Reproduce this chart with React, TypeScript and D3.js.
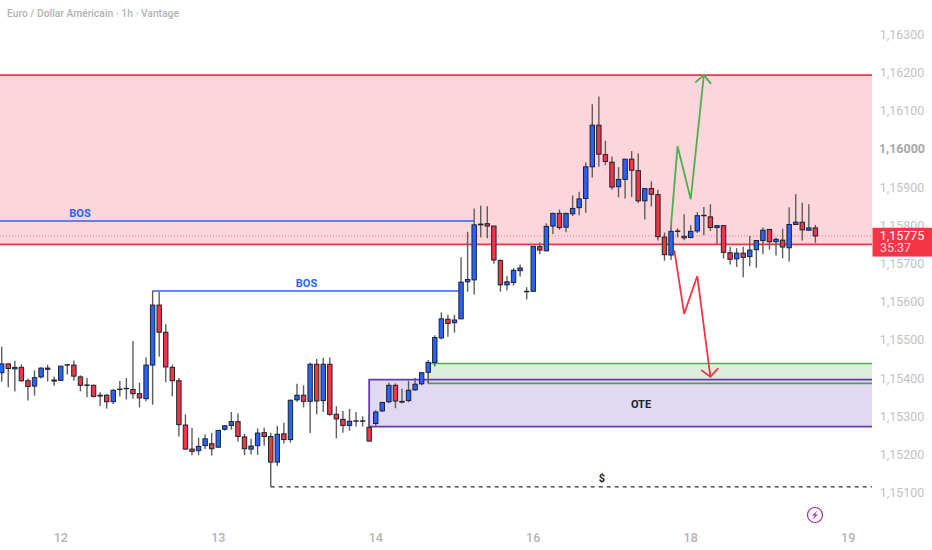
import React from 'react'
import * as d3 from 'd3'

// EURUSD 1h candles
const opens = [
  1.15417, 1.15440, 1.15427, 1.15431, 1.15396, 1.15382, 1.15406, 1.15429, 1.15398, 1.15397,
  1.15437, 1.15437, 1.15406, 1.15385, 1.15384, 1.15358, 1.15358, 1.15341, 1.15373, 1.15375,
  1.15373, 1.15362, 1.15349, 1.15437, 1.15594, 1.15523, 1.15431, 1.15396, 1.15280, 1.15217,
  1.15213, 1.15226, 1.15231, 1.15222, 1.15269, 1.15279, 1.15289, 1.15249, 1.15217, 1.15226,
  1.15260, 1.15250, 1.15183, 1.15257, 1.15242, 1.15346, 1.15358, 1.15342, 1.15439, 1.15344,
  1.15439, 1.15308, 1.15295, 1.15279, 1.15290, 1.15290, 1.15274, 1.15284, 1.15317, 1.15341,
  1.15384, 1.15342, 1.15344, 1.15372, 1.15388, 1.15418, 1.15444, 1.15508, 1.15557, 1.15548,
  1.15558, 1.15655, 1.15660, 1.15806, 1.15807, 1.15801, 1.15711, 1.15647, 1.15653, 1.15684,
  1.15629, 1.15630, 1.15747, 1.15736, 1.15801, 1.15834, 1.15798, 1.15833, 1.15849, 1.15873,
  1.15956, 1.16065, 1.15988, 1.15968, 1.15904, 1.15923, 1.15976, 1.15946, 1.15867, 1.15899,
  1.15883, 1.15772, 1.15725, 1.15787, 1.15774, 1.15771, 1.15788, 1.15828, 1.15825, 1.15797,
  1.15802, 1.15731, 1.15715, 1.15730, 1.15721, 1.15739, 1.15763, 1.15792, 1.15760, 1.15764,
  1.15744, 1.15805, 1.15811, 1.15790, 1.15796,
]
const closes = [
  1.15440, 1.15428, 1.15431, 1.15396, 1.15381, 1.15404, 1.15429, 1.15426, 1.15395, 1.15434,
  1.15438, 1.15408, 1.15384, 1.15384, 1.15355, 1.15356, 1.15341, 1.15371, 1.15374, 1.15376,
  1.15362, 1.15351, 1.15437, 1.15594, 1.15523, 1.15432, 1.15396, 1.15281, 1.15217, 1.15211,
  1.15224, 1.15244, 1.15218, 1.15266, 1.15278, 1.15289, 1.15250, 1.15218, 1.15225, 1.15259,
  1.15250, 1.15183, 1.15256, 1.15242, 1.15345, 1.15358, 1.15342, 1.15439, 1.15343, 1.15439,
  1.15308, 1.15296, 1.15279, 1.15290, 1.15291, 1.15291, 1.15238, 1.15314, 1.15339, 1.15384,
  1.15343, 1.15340, 1.15371, 1.15387, 1.15417, 1.15444, 1.15509, 1.15558, 1.15546, 1.15555,
  1.15654, 1.15661, 1.15804, 1.15804, 1.15801, 1.15712, 1.15647, 1.15655, 1.15685, 1.15691,
  1.15630, 1.15748, 1.15738, 1.15800, 1.15834, 1.15797, 1.15834, 1.15847, 1.15872, 1.15956,
  1.16065, 1.15989, 1.15970, 1.15903, 1.15923, 1.15976, 1.15947, 1.15867, 1.15899, 1.15884,
  1.15773, 1.15726, 1.15787, 1.15788, 1.15770, 1.15787, 1.15828, 1.15829, 1.15797, 1.15802,
  1.15732, 1.15714, 1.15730, 1.15719, 1.15738, 1.15763, 1.15790, 1.15760, 1.15766, 1.15746,
  1.15805, 1.15811, 1.15791, 1.15796, 1.15775,
]
const highs = [
  1.15485, 1.15442, 1.15448, 1.15439, 1.15402, 1.15423, 1.15431, 1.15438, 1.15407, 1.15435,
  1.15439, 1.15449, 1.15410, 1.15403, 1.15386, 1.15366, 1.15361, 1.15374, 1.15395, 1.15403,
  1.15500, 1.15391, 1.15457, 1.15632, 1.15629, 1.15544, 1.15438, 1.15403, 1.15308, 1.15272,
  1.15247, 1.15255, 1.15259, 1.15267, 1.15280, 1.15314, 1.15311, 1.15257, 1.15244, 1.15271,
  1.15273, 1.15260, 1.15278, 1.15286, 1.15346, 1.15388, 1.15384, 1.15444, 1.15453, 1.15456,
  1.15457, 1.15329, 1.15317, 1.15322, 1.15314, 1.15303, 1.15309, 1.15319, 1.15341, 1.15391,
  1.15389, 1.15375, 1.15396, 1.15404, 1.15418, 1.15450, 1.15515, 1.15575, 1.15569, 1.15569,
  1.15719, 1.15786, 1.15847, 1.15854, 1.15853, 1.15801, 1.15713, 1.15670, 1.15691, 1.15700,
  1.15641, 1.15749, 1.15758, 1.15808, 1.15836, 1.15844, 1.15836, 1.15881, 1.15891, 1.15967,
  1.16120, 1.16140, 1.16024, 1.15983, 1.15955, 1.15976, 1.15997, 1.15991, 1.15900, 1.15918,
  1.15896, 1.15784, 1.15804, 1.15795, 1.15832, 1.15803, 1.15837, 1.15851, 1.15858, 1.15803,
  1.15802, 1.15747, 1.15743, 1.15747, 1.15775, 1.15764, 1.15797, 1.15792, 1.15771, 1.15794,
  1.15850, 1.15884, 1.15862, 1.15858, 1.15804,
]
const lows = [
  1.15393, 1.15379, 1.15368, 1.15393, 1.15344, 1.15357, 1.15402, 1.15394, 1.15383, 1.15396,
  1.15412, 1.15396, 1.15368, 1.15353, 1.15352, 1.15330, 1.15323, 1.15335, 1.15355, 1.15347,
  1.15349, 1.15326, 1.15342, 1.15333, 1.15459, 1.15392, 1.15355, 1.15250, 1.15215, 1.15201,
  1.15201, 1.15217, 1.15200, 1.15221, 1.15265, 1.15268, 1.15237, 1.15201, 1.15203, 1.15202,
  1.15226, 1.15118, 1.15173, 1.15232, 1.15234, 1.15341, 1.15326, 1.15259, 1.15308, 1.15314,
  1.15304, 1.15245, 1.15260, 1.15265, 1.15276, 1.15276, 1.15237, 1.15278, 1.15314, 1.15337,
  1.15324, 1.15337, 1.15340, 1.15370, 1.15384, 1.15389, 1.15433, 1.15504, 1.15511, 1.15522,
  1.15558, 1.15629, 1.15622, 1.15771, 1.15769, 1.15702, 1.15629, 1.15632, 1.15645, 1.15669,
  1.15609, 1.15629, 1.15727, 1.15736, 1.15780, 1.15791, 1.15785, 1.15827, 1.15829, 1.15836,
  1.15928, 1.15956, 1.15960, 1.15896, 1.15876, 1.15873, 1.15877, 1.15861, 1.15818, 1.15852,
  1.15763, 1.15710, 1.15712, 1.15771, 1.15764, 1.15769, 1.15783, 1.15777, 1.15788, 1.15753,
  1.15716, 1.15700, 1.15694, 1.15667, 1.15696, 1.15692, 1.15727, 1.15739, 1.15724, 1.15716,
  1.15708, 1.15804, 1.15763, 1.15788, 1.15757,
]

const priceTicks = [1.163, 1.162, 1.161, 1.16, 1.159, 1.158, 1.157, 1.156, 1.155, 1.154, 1.153, 1.152, 1.151]
const dayTicks = [
  { bar: 9, label: '12' },
  { bar: 33, label: '13' },
  { bar: 57, label: '14' },
  { bar: 81, label: '16' },
  { bar: 105, label: '18' },
  { bar: 129, label: '19' },
]

// drawings as [bar, price]
const greenArrow: [number, number][] = [[102, 1.15804], [103, 1.1601], [105, 1.15871], [107, 1.16196]]
const greenHead: [number, number][] = [[105.7, 1.16177], [107, 1.16196], [108.1, 1.16173]]
const redArrow: [number, number][] = [[102.5, 1.15738], [104, 1.15571], [106, 1.1567], [108, 1.15406]]
const redHead: [number, number][] = [[106.6, 1.15424], [108, 1.15406], [109.2, 1.15429]]

const supplyTop = 1.16196
const supplyBottom = 1.15753
const bosHigh = { price: 1.15814, toBar: 72 }
const bosLow = { price: 1.15631, fromBar: 23, toBar: 70 }
const greenZone = { top: 1.15441, bottom: 1.15389, fromBar: 65 }
const oteZone = { top: 1.15399, bottom: 1.15276, fromBar: 56 }
const liquidity = { price: 1.15118, fromBar: 41 }
const lastPrice = 1.15775

const width = 932
const height = 550
const plotRight = 872

const x = d3.scaleLinear().domain([0, 124]).range([1.7, 815.4])
const y = d3.scaleLinear().domain([1.151, 1.163]).range([493.8, 35.4])

const BLUE = '#2962ff'
const RED = '#f23645'
const GREEN = '#4caf50'
const PURPLE = '#673ab7'
const FONT = 'Roboto, "Open Sans", sans-serif'

const formatPrice = (v: number) => v.toFixed(5).replace('.', ',')
const pathLine = d3.line<[number, number]>().x(d => x(d[0])).y(d => y(d[1]))

export default function App() {
  return (
    <svg
      width={width}
      height={height}
      style={{ position: 'absolute', left: 0, top: 0, background: '#fff', fontFamily: FONT }}
    >
      {/* supply zone */}
      <rect x={0} y={y(supplyTop)} width={plotRight} height={y(supplyBottom) - y(supplyTop)} fill="#fcd6da" />

      {/* green and OTE zones */}
      <rect x={x(greenZone.fromBar)} y={y(greenZone.top)} width={plotRight - x(greenZone.fromBar)} height={y(greenZone.bottom) - y(greenZone.top)} fill="#dbefdc" />
      <rect x={x(oteZone.fromBar)} y={y(oteZone.top)} width={plotRight - x(oteZone.fromBar)} height={y(oteZone.bottom) - y(oteZone.top)} fill="#e1d8f1" />
      <line x1={x(greenZone.fromBar)} x2={plotRight} y1={y(greenZone.top)} y2={y(greenZone.top)} stroke={GREEN} strokeWidth={1.6} />
      <line x1={x(greenZone.fromBar)} x2={plotRight} y1={y(greenZone.bottom)} y2={y(greenZone.bottom)} stroke="#4f9a63" strokeWidth={1.6} />
      <line x1={x(greenZone.fromBar)} x2={x(greenZone.fromBar)} y1={y(greenZone.top)} y2={y(greenZone.bottom)} stroke={GREEN} strokeWidth={1.4} />
      <path
        d={`M${plotRight},${y(oteZone.top)}H${x(oteZone.fromBar)}V${y(oteZone.bottom)}H${plotRight}`}
        fill="none"
        stroke={PURPLE}
        strokeWidth={1.8}
      />

      {/* levels */}
      <line x1={0} x2={plotRight} y1={y(supplyTop)} y2={y(supplyTop)} stroke={RED} strokeWidth={1.8} />
      <line x1={0} x2={plotRight} y1={y(supplyBottom)} y2={y(supplyBottom)} stroke={RED} strokeWidth={1.8} />
      <line x1={0} x2={x(bosHigh.toBar)} y1={y(bosHigh.price)} y2={y(bosHigh.price)} stroke={BLUE} strokeWidth={1.6} />
      <line x1={x(bosLow.fromBar)} x2={x(bosLow.toBar)} y1={y(bosLow.price)} y2={y(bosLow.price)} stroke={BLUE} strokeWidth={1.6} />
      <line x1={x(liquidity.fromBar)} x2={plotRight} y1={y(liquidity.price)} y2={y(liquidity.price)} stroke="#333" strokeWidth={1.1} strokeDasharray="4 4" />
      <line x1={0} x2={plotRight} y1={y(lastPrice)} y2={y(lastPrice)} stroke={RED} strokeOpacity={0.6} strokeWidth={1} strokeDasharray="1 2" />

      {/* candles */}
      {opens.map((open, i) => {
        const close = closes[i]
        const top = y(Math.max(open, close))
        const bottom = y(Math.min(open, close))
        return (
          <g key={i}>
            <line x1={x(i)} x2={x(i)} y1={y(highs[i])} y2={y(lows[i])} stroke="#5d5d5d" strokeWidth={1.4} />
            <rect
              x={x(i) - 2.2}
              y={top}
              width={4.4}
              height={Math.max(bottom - top, 0.4)}
              fill={close >= open ? BLUE : RED}
              stroke="#1c2230"
              strokeWidth={1}
            />
          </g>
        )
      })}

      {/* arrows */}
      <path d={pathLine(greenArrow) ?? ''} fill="none" stroke={GREEN} strokeWidth={1.8} />
      <path d={pathLine(greenHead) ?? ''} fill="none" stroke={GREEN} strokeWidth={1.8} />
      <path d={pathLine(redArrow) ?? ''} fill="none" stroke={RED} strokeWidth={1.8} />
      <path d={pathLine(redHead) ?? ''} fill="none" stroke={RED} strokeWidth={1.8} />

      {/* annotation labels */}
      <text x={80} y={217} textAnchor="middle" fontSize={11} fontWeight={700} fill={BLUE}>BOS</text>
      <text x={306.5} y={286.5} textAnchor="middle" fontSize={11} fontWeight={700} fill={BLUE}>BOS</text>
      <text x={641} y={408} textAnchor="middle" fontSize={11} fontWeight={700} fill="#1c2230">OTE</text>
      <text x={602} y={482} textAnchor="middle" fontSize={11} fontWeight={700} fill="#1c2230">$</text>

      {/* title */}
      <text x={7} y={16.5} fontSize={10.3} fontWeight={500} fill="#b3b3b3">Euro / Dollar Américain · 1h · Vantage</text>

      {/* price axis */}
      {priceTicks.map(t => (
        <text
          key={t}
          x={902}
          y={y(t) + 3.4}
          textAnchor="middle"
          fontSize={12.5}
          fontWeight={t === 1.16 ? 700 : 400}
          fill={t === 1.16 ? '#a8a8a8' : '#c2c2c2'}
        >
          {formatPrice(t)}
        </text>
      ))}

      {/* last price tag */}
      <rect x={872.5} y={y(lastPrice) - 8.2} width={59.5} height={28.8} fill={RED} />
      <text x={902} y={y(lastPrice) + 4} textAnchor="middle" fontSize={12.5} fill="#fff">{formatPrice(lastPrice)}</text>
      <text x={880} y={y(lastPrice) + 16.5} fontSize={12.5} fill="#fcd6da">35:37</text>

      {/* day axis */}
      {dayTicks.map(t => (
        <text key={t.label} x={x(t.bar)} y={542} textAnchor="middle" fontSize={12.5} fontWeight={500} fill="#b3b3b3">
          {t.label}
        </text>
      ))}

      {/* bolt badge */}
      <circle cx={815} cy={515} r={7.5} fill="none" stroke="#a02ea8" strokeWidth={1.2} />
      <path d="M817.5,510.5 L812,515.5 L815,515.5 L812.5,519.5 L818,514.5 L815,514.5 Z" fill="#a02ea8" />
    </svg>
  )
}
